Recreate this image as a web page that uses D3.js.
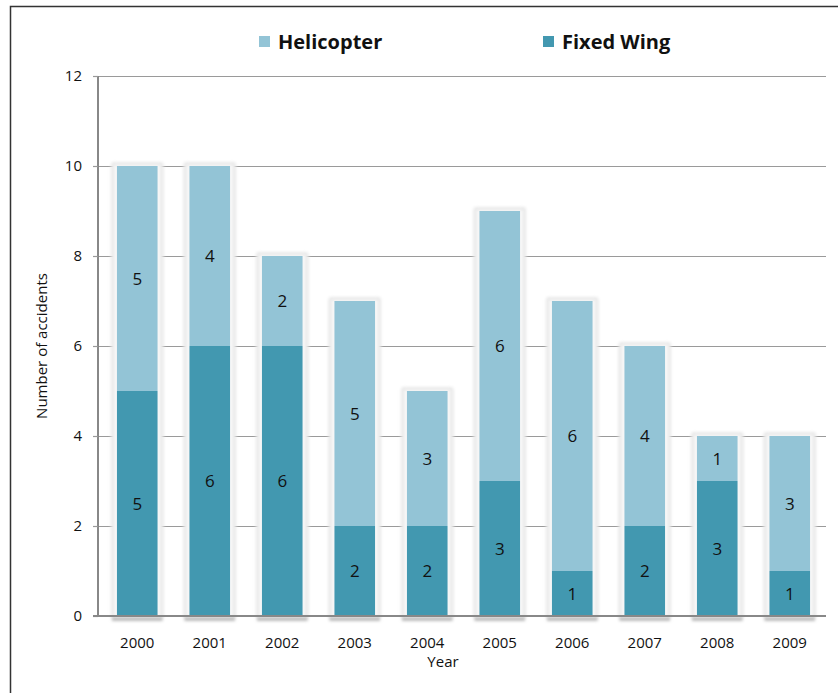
<!DOCTYPE html>
<html>
<head>
<meta charset="utf-8">
<script src="https://cdn.jsdelivr.net/npm/d3@7"></script>
<style>
  html, body { margin: 0; padding: 0; background: #fff; }
  svg { display: block; font-family: "Open Sans", "Liberation Sans", sans-serif; }
</style>
</head>
<body>
<svg id="chart" width="838" height="693"></svg>
<script>
// Aircraft accidents per year, split by aircraft type
const years = ["2000", "2001", "2002", "2003", "2004", "2005", "2006", "2007", "2008", "2009"];
const fixedWing = [5, 6, 6, 2, 2, 3, 1, 2, 3, 1];
const helicopter = [5, 4, 2, 5, 3, 6, 6, 4, 1, 3];
const seriesNames = ["Helicopter", "Fixed Wing"];
const yTicks = [0, 2, 4, 6, 8, 10, 12];

const colors = { "Fixed Wing": "#4398b0", "Helicopter": "#93c4d6" };

const svg = d3.select("#chart");
const W = 838, H = 693;
const plot = { left: 98, right: 826, top: 76, bottom: 616 };

// outer frame (runs off the right and bottom edges)
svg.append("path")
  .attr("d", `M10.5,${H + 2} L10.5,6.5 L${W + 2},6.5`)
  .attr("fill", "none").attr("stroke", "#333").attr("stroke-width", 1.5);

const x = d3.scaleBand().domain(years)
  .range([plot.left + 3, plot.right]).paddingInner(0.44).paddingOuter(0.22);
const y = d3.scaleLinear().domain([0, 12]).range([plot.bottom, plot.top]);

const rows = years.map((yr, i) => ({ year: yr, "Fixed Wing": fixedWing[i], "Helicopter": helicopter[i] }));
const stack = d3.stack().keys(["Fixed Wing", "Helicopter"]);
const layers = stack(rows);

const defs = svg.append("defs");
defs.append("filter").attr("id", "glow").attr("x", "-30%").attr("y", "-10%").attr("width", "160%").attr("height", "120%")
  .append("feGaussianBlur").attr("stdDeviation", 1.4);
defs.append("filter").attr("id", "soft").attr("x", "-5%").attr("y", "-5%").attr("width", "110%").attr("height", "110%")
  .append("feGaussianBlur").attr("stdDeviation", 0.6);

// horizontal gridlines
svg.append("g").selectAll("line").data(yTicks.filter(d => d > 0)).join("line")
  .attr("x1", plot.left).attr("x2", plot.right)
  .attr("y1", d => Math.round(y(d)) + 0.5).attr("y2", d => Math.round(y(d)) + 0.5)
  .attr("stroke", "#9a9a9a").attr("stroke-width", 1.2);

// halo behind each stacked column
const totals = rows.map(r => r["Fixed Wing"] + r["Helicopter"]);
const halo = svg.append("g").attr("filter", "url(#glow)");
halo.selectAll("rect.outer").data(years).join("rect")
  .attr("x", d => x(d) - 6).attr("width", x.bandwidth() + 12)
  .attr("y", (d, i) => y(totals[i]) - 4)
  .attr("height", (d, i) => y(0) - y(totals[i]) + 8)
  .attr("rx", 3)
  .attr("fill", "#e8e8e8");
halo.selectAll("rect.inner").data(years).join("rect")
  .attr("x", d => x(d) - 3).attr("width", x.bandwidth() + 6)
  .attr("y", (d, i) => y(totals[i]) - 1)
  .attr("height", (d, i) => y(0) - y(totals[i]) + 2)
  .attr("fill", "#f8f8f8");
halo.selectAll("rect.base").data(years).join("rect")
  .attr("x", d => x(d) - 5).attr("width", x.bandwidth() + 10)
  .attr("y", y(0) + 1).attr("height", 4)
  .attr("fill", "#bdbdbd");

// stacked bars
const barG = svg.append("g").attr("filter", "url(#soft)");
barG.selectAll("g").data(layers).join("g")
  .attr("fill", d => colors[d.key])
  .selectAll("rect").data(d => d).join("rect")
  .attr("x", d => x(d.data.year))
  .attr("width", x.bandwidth())
  .attr("y", d => y(d[1]))
  .attr("height", d => y(d[0]) - y(d[1]));

// value labels centred in each segment
const labelG = svg.append("g");
layers.forEach(layer => {
  labelG.selectAll(null).data(layer).join("text")
    .attr("x", d => x(d.data.year) + x.bandwidth() / 2)
    .attr("y", d => y((d[0] + d[1]) / 2))
    .attr("dy", "0.36em")
    .attr("text-anchor", "middle")
    .attr("font-size", 17)
    .attr("fill", "#111")
    .text(d => d[1] - d[0]);
});

// y axis
const yAxis = svg.append("g").attr("transform", `translate(${plot.left},0)`)
  .call(d3.axisLeft(y).tickValues(yTicks).tickSize(5).tickPadding(11));
yAxis.select(".domain").attr("stroke", "#888").attr("stroke-width", 2).attr("d", `M0,${y(12)}V${y(0)}`);
yAxis.selectAll(".tick line").attr("stroke", "#999").attr("stroke-width", 1.2);
yAxis.selectAll("text").attr("font-size", 15).attr("fill", "#111").attr("font-family", "Open Sans, sans-serif");

// x axis
const xAxis = svg.append("g").attr("transform", `translate(0,${y(0)})`)
  .call(d3.axisBottom(x).tickSize(0).tickPadding(21));
xAxis.select(".domain").attr("stroke", "#888").attr("stroke-width", 2)
  .attr("d", `M${plot.left - 5},0H${plot.right}`);
xAxis.selectAll("text").attr("font-size", 15).attr("fill", "#111").attr("font-family", "Open Sans, sans-serif");

// axis titles
svg.append("text")
  .attr("transform", `translate(47,${(y(0) + y(12)) / 2}) rotate(-90)`)
  .attr("text-anchor", "middle").attr("font-size", 15).attr("fill", "#111")
  .text("Number of accidents");
svg.append("text")
  .attr("x", 443).attr("y", 667)
  .attr("text-anchor", "middle").attr("font-size", 15).attr("fill", "#111")
  .text("Year");

// legend
const legendX = [259, 543];
const legend = svg.append("g").selectAll("g").data(seriesNames).join("g")
  .attr("transform", (d, i) => `translate(${legendX[i]},36)`);
legend.append("rect").attr("width", 11).attr("height", 11).attr("fill", d => colors[d]);
legend.append("text")
  .attr("x", 19).attr("y", 6).attr("dy", "0.36em")
  .attr("font-size", 20).attr("font-weight", "bold").attr("fill", "#111")
  .text(d => d);
</script>
</body>
</html>
